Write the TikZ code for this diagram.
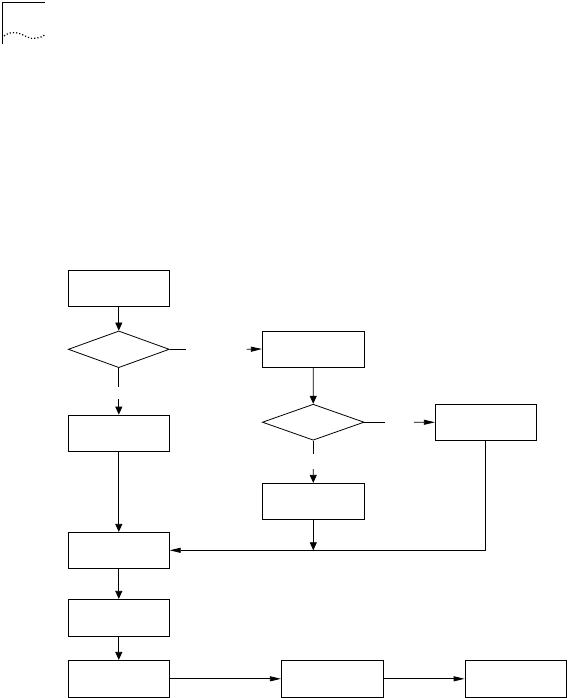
\documentclass[tikz,border=0pt]{standalone}
\usetikzlibrary{shapes.geometric,arrows.meta}
\begin{document}
\begin{tikzpicture}[x=1pt,y=-1pt,
  line width=0.8pt,
  box/.style={draw,rectangle,minimum width=101pt,minimum height=36pt,inner sep=0pt},
  dec/.style={draw,diamond,minimum width=101pt,minimum height=36pt,inner sep=0pt},
  varr/.style={-{Triangle[length=8pt,width=7pt]}},
  harr/.style={-{Triangle[length=11pt,width=5pt]}}]
\useasboundingbox (0,0) rectangle (567,698);
% corner mark
\draw (2,44) -- (2,2.5) -- (45,2.5);
\draw[dotted,line width=1.2pt] (4,36) .. controls (12,30) and (20,33) .. (27,37) .. controls (33,40) and (40,38) .. (45,35);
% nodes
\node[box] (b1) at (118.8,288.2) {};
\node[dec,minimum height=36.7pt] (d1) at (118.8,349.3) {};
\node[box,minimum width=102pt] (b2) at (313.3,349) {};
\node[box] (b3) at (118.8,433) {};
\node[dec,minimum width=101.7pt] (d2) at (313.2,422.2) {};
\node[box] (b4) at (485.8,422.3) {};
\node[box,minimum width=102pt] (b5) at (313.3,501.3) {};
\node[box] (b6) at (118.8,550.3) {};
\node[box,minimum height=37pt] (b7) at (118.8,617.8) {};
\node[box,minimum height=37pt] (b8) at (118.8,678.8) {};
\node[box,minimum width=102pt,minimum height=37pt] (b9) at (332.3,678.8) {};
\node[box,minimum height=37pt] (b10) at (515.5,678.8) {};
% free ends of broken connectors
\coordinate (d1r) at (185.7,349.3);
\coordinate (b2in) at (246.7,349.3);
\coordinate (d1b) at (118.8,386.7);
\coordinate (b3in) at (118.8,399);
\coordinate (d2r) at (384.7,422.2);
\coordinate (b4in) at (414,422.2);
\coordinate (d2b) at (313.2,454.3);
\coordinate (b5in) at (313.2,469);
\coordinate (j1) at (313.3,550.3);
% connectors
\draw[varr] (b1) -- (d1);
\draw (d1.east) -- (d1r);
\draw[harr] (b2in) -- (b2.west);
\draw (d1.south) -- (d1b);
\draw[varr] (b3in) -- (b3.north);
\draw[varr] (b2) -- (d2);
\draw (d2.east) -- (d2r);
\draw[harr] (b4in) -- (b4.west);
\draw (d2.south) -- (d2b);
\draw[varr] (b5in) -- (b5.north);
\draw[varr] (b5.south) -- (j1);
\draw[harr] (b4.south) |- (b6.east);
\draw[varr] (b3) -- (b6);
\draw[varr] (b6) -- (b7);
\draw[varr] (b7) -- (b8);
\draw[harr] (b8) -- (b9);
\draw[harr] (b9) -- (b10);
\end{tikzpicture}
\end{document}
